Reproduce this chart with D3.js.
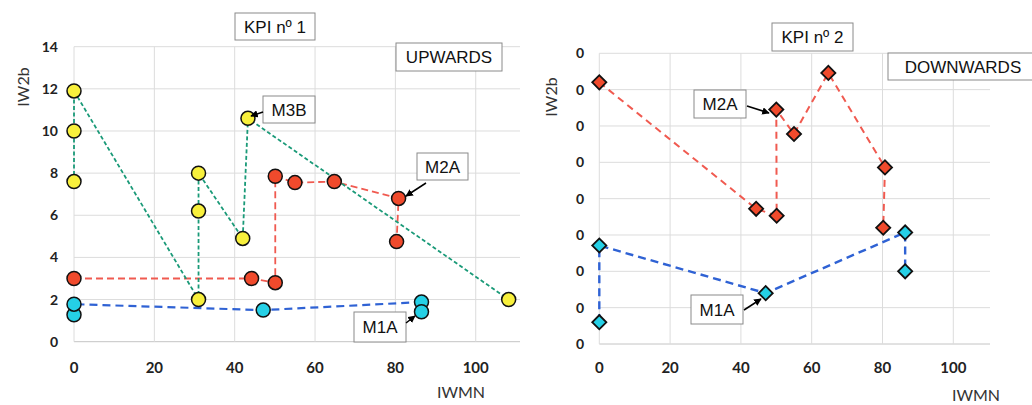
<!DOCTYPE html>
<html>
<head>
<meta charset="utf-8">
<script src="https://cdn.jsdelivr.net/npm/d3@7"></script>
<style>
  body { margin: 0; background: #fff; }
  svg { display: block; }
</style>
</head>
<body>
<script>
// data
var xTicks = [0, 20, 40, 60, 80, 100];

// KPI 1 (upwards), circles
var kpi1Yellow = [[0, 7.6], [0, 10.0], [0, 11.9], [31, 2.0], [31, 6.2], [31, 8.0], [42, 4.9], [43.3, 10.6], [108.2, 2.0]];
var kpi1Red = [[0, 3.0], [44.2, 3.0], [50.1, 2.8], [50.1, 7.85], [55, 7.55], [64.8, 7.6], [80.8, 6.8], [80.3, 4.75]];
var kpi1Blue = [[0, 1.28], [0, 1.78], [47.1, 1.5], [86.5, 1.88], [86.5, 1.42]];
var kpi1YTicks = [0, 2, 4, 6, 8, 10, 12, 14];
var kpi1YLabels = ["0", "2", "4", "6", "8", "10", "12", "14"];

// KPI 2 (downwards), diamonds
var kpi2Red = [[0, 7.2], [44.3, 3.72], [50.1, 3.53], [50, 6.45], [55, 5.78], [64.7, 7.46], [80.7, 4.86], [80.2, 3.2]];
var kpi2Blue = [[0, 0.6], [0, 2.71], [47, 1.4], [86.4, 3.07], [86.4, 2.0]];
var kpi2YTicks = [0, 1, 2, 3, 4, 5, 6, 7, 8];
var kpi2YLabels = ["0", "0", "0", "0", "0", "0", "0", "0", "0"];

var width = 1032;
var height = 405;
var svg = d3.select("body").append("svg")
    .attr("width", width)
    .attr("height", height);

svg.append("defs").append("marker")
    .attr("id", "arrow")
    .attr("viewBox", "0 0 10 10")
    .attr("refX", 9).attr("refY", 5)
    .attr("markerWidth", 5).attr("markerHeight", 5)
    .attr("orient", "auto")
    .append("path")
    .attr("d", "M0,0 L10,5 L0,10 z")
    .attr("fill", "#000");

var gridColor = "#dcdcdc";
var tickFont = "Lato, 'Open Sans', sans-serif";
var boxFont = "'Liberation Sans', Arial, sans-serif";

function drawPanel(p) {
    var g = svg.append("g");
    var x = d3.scaleLinear().domain([0, 110]).range(p.xRange);
    var y = d3.scaleLinear().domain(p.yDomain).range(p.yRange);

    // horizontal grid
    g.selectAll(".hgrid").data(p.yTicks).join("line")
        .attr("x1", x(0)).attr("x2", p.gridRight)
        .attr("y1", d => y(d)).attr("y2", d => y(d))
        .attr("stroke", d => d === 0 ? "#c4c4c4" : gridColor)
        .attr("stroke-width", 1);
    // vertical grid
    g.selectAll(".vgrid").data(xTicks).join("line")
        .attr("x1", d => x(d)).attr("x2", d => x(d))
        .attr("y1", y(p.yDomain[1])).attr("y2", y(0))
        .attr("stroke", gridColor)
        .attr("stroke-width", 1);

    // tick labels
    g.selectAll(".xl").data(xTicks).join("text")
        .attr("x", d => x(d)).attr("y", 373)
        .attr("text-anchor", "middle")
        .style("font-family", tickFont).style("font-weight", "bold").style("font-size", "15px")
        .attr("fill", "#222")
        .text(d => d);
    g.selectAll(".yl").data(p.yTicks).join("text")
        .attr("x", p.yLabelX).attr("y", d => y(d) + 5)
        .attr("text-anchor", "end")
        .style("font-family", tickFont).style("font-weight", "bold").style("font-size", "14px")
        .attr("fill", "#222")
        .text((d, i) => p.yLabels[i]);

    // axis titles
    g.append("text")
        .attr("transform", "translate(" + p.yTitle[0] + "," + p.yTitle[1] + ") rotate(-90)")
        .attr("text-anchor", "middle")
        .style("font-family", tickFont).style("font-size", "16px")
        .attr("fill", "#333")
        .text("IW2b");
    g.append("text")
        .attr("x", p.xTitle[0]).attr("y", p.xTitle[1])
        .attr("text-anchor", "middle")
        .style("font-family", tickFont).style("font-size", "16px")
        .attr("fill", "#333")
        .text("IWMN");

    // dashed connecting lines
    var line = d3.line().x(d => x(d[0])).y(d => y(d[1]));
    p.series.forEach(function(s) {
        g.append("path")
            .attr("d", line(s.data))
            .attr("fill", "none")
            .attr("stroke", s.line)
            .attr("stroke-width", s.lineWidth)
            .attr("stroke-dasharray", s.dash);
    });

    // markers
    p.series.forEach(function(s) {
        if (p.marker === "circle") {
            g.selectAll(null).data(s.data).join("circle")
                .attr("cx", d => x(d[0])).attr("cy", d => y(d[1]))
                .attr("r", 7)
                .attr("fill", s.fill)
                .attr("stroke", "#111").attr("stroke-width", 1.5);
        } else {
            g.selectAll(null).data(s.data).join("path")
                .attr("d", d3.symbol(d3.symbolSquare, 100))
                .attr("transform", d => "translate(" + x(d[0]) + "," + y(d[1]) + ") rotate(45)")
                .attr("fill", s.fill)
                .attr("stroke", "#111").attr("stroke-width", 1.8);
        }
    });

    // text boxes and arrows
    p.boxes.forEach(function(b) {
        g.append("rect")
            .attr("x", b.x).attr("y", b.y).attr("width", b.w).attr("height", b.h)
            .attr("fill", "#fff").attr("stroke", "#8a8a8a").attr("stroke-width", 1);
        g.append("text")
            .attr("x", b.x + b.w / 2).attr("y", b.y + b.h / 2 + 6)
            .attr("text-anchor", "middle")
            .style("font-family", boxFont).style("font-size", "17px")
            .attr("fill", "#111")
            .text(b.text);
        if (b.arrow) {
            g.append("line")
                .attr("x1", b.arrow[0]).attr("y1", b.arrow[1])
                .attr("x2", b.arrow[2]).attr("y2", b.arrow[3])
                .attr("stroke", "#000").attr("stroke-width", 1.5)
                .attr("marker-end", "url(#arrow)");
        }
    });
}

drawPanel({
    xRange: [74, 515.9],
    yDomain: [0, 14],
    yRange: [341.7, 46.7],
    gridRight: 520,
    yTicks: kpi1YTicks,
    yLabels: kpi1YLabels,
    yLabelX: 58,
    yTitle: [29, 87],
    xTitle: [461, 398],
    marker: "circle",
    series: [
        { data: kpi1Blue, fill: "#25d0e6", line: "#2f62d4", lineWidth: 2.2, dash: "8,5" },
        { data: kpi1Red, fill: "#f04a2c", line: "#f05a50", lineWidth: 1.8, dash: "7,4" },
        { data: kpi1Yellow, fill: "#f8f03c", line: "#1a9a78", lineWidth: 1.8, dash: "4,2.5" }
    ],
    boxes: [
        { text: "KPI nº 1", x: 235, y: 13, w: 80, h: 27 },
        { text: "UPWARDS", x: 396, y: 43, w: 106, h: 28 },
        { text: "M3B", x: 263, y: 96, w: 52, h: 27, arrow: [263, 112, 251, 116] },
        { text: "M2A", x: 417, y: 153, w: 51, h: 27, arrow: [426, 183, 406, 196] },
        { text: "M1A", x: 354, y: 312, w: 52, h: 30, arrow: [406, 323, 415, 316] }
    ]
});

// white backing for the second panel
svg.append("rect").attr("x", 535).attr("y", 0).attr("width", 497).attr("height", height).attr("fill", "#fff");

drawPanel({
    xRange: [599.3, 988.7],
    yDomain: [0, 8],
    yRange: [344, 53.3],
    gridRight: 990,
    yTicks: kpi2YTicks,
    yLabels: kpi2YLabels,
    yLabelX: 584,
    yTitle: [557, 97],
    xTitle: [976, 401],
    marker: "diamond",
    series: [
        { data: kpi2Red, fill: "#f04a2c", line: "#f05a50", lineWidth: 2, dash: "7,5" },
        { data: kpi2Blue, fill: "#25d0e6", line: "#2f62d4", lineWidth: 2.4, dash: "8,5" }
    ],
    boxes: [
        { text: "KPI nº 2", x: 772, y: 23, w: 81, h: 28 },
        { text: "DOWNWARDS", x: 888, y: 53, w: 150, h: 27 },
        { text: "M2A", x: 694, y: 90, w: 52, h: 28, arrow: [747, 106, 769, 113] },
        { text: "M1A", x: 691, y: 295, w: 52, h: 29, arrow: [744, 310, 761, 299] }
    ]
});
</script>
</body>
</html>
